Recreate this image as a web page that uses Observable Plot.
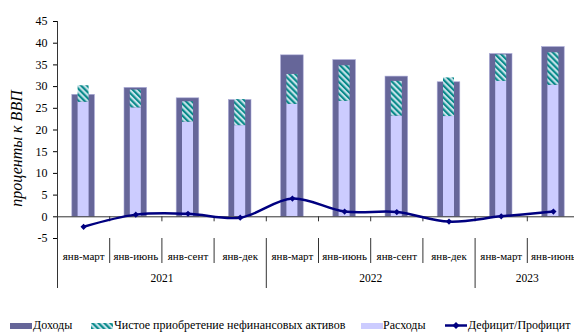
<!DOCTYPE html>
<html><head><meta charset="utf-8">
<script src="https://cdn.jsdelivr.net/npm/d3@7"></script>
<script src="https://cdn.jsdelivr.net/npm/@observablehq/plot@0.6"></script>
<style>
body{margin:0;background:#fff;font-family:"Liberation Serif","Times New Roman",serif;}
#wrap{position:relative;width:574px;height:332px;overflow:hidden;background:#fff;}
#chart svg{display:block}
.lg{position:absolute;font-size:12px;line-height:12px;color:#000;white-space:nowrap;top:318.5px}
.sw{position:absolute;top:322.5px;width:22px;height:6px}
</style></head><body>
<div id="wrap"><div id="chart"></div><div id="legend"></div></div>
<script>
// ---- data ----
const periods = ["янв-март","янв-июнь","янв-сент","янв-дек","янв-март","янв-июнь","янв-сент","янв-дек","янв-март","янв-июнь"];
const years = ["2021","2022","2023"];
const yearSpans = [4,4,2];
const revenues = [28.1,29.7,27.3,26.9,37.2,36.1,32.3,31.0,37.5,39.1];
const expenditures = [26.4,25.1,21.8,21.0,25.9,26.6,23.2,23.1,31.2,30.3];
const netAcquisition = [3.8,4.1,4.7,6.0,6.9,8.2,8.0,8.9,6.1,7.5];
const balance = [-2.3,0.5,0.7,-0.2,4.2,1.2,1.1,-1.1,0.1,1.2];
const yTicks = [-5,0,5,10,15,20,25,30,35,40,45];
const yTitle = "проценты к ВВП";
const legendLabels = ["Доходы","Чистое приобретение нефинансовых активов","Расходы","Дефицит/Профицит"];

// ---- derived table ----
const rows = periods.map((p,i)=>({i, period:p, rev:revenues[i], exp:expenditures[i], naa:netAcquisition[i], bal:balance[i]}));
const boundaries = d3.range(0, periods.length + 1);
let acc = 0;
const yearStarts = [], yearCenters = [];
yearSpans.forEach(s => { yearStarts.push(acc); yearCenters.push(acc + s/2); acc += s; });
const shortSeps = boundaries.filter(b => b > 0 && b < periods.length && !yearStarts.includes(b));

const C_REV = "#666699", C_EXP = "#ccccff", C_LINE = "#000080";
const outerInset = 14.8, innerInset = 20.6;

const chart = Plot.plot({
  width: 574, height: 305,
  marginLeft: 57, marginRight: 0, marginTop: 21, marginBottom: 67,
  style: {fontFamily: '"Liberation Serif","Times New Roman",serif', fontSize: "11px", color: "#000", background: "white"},
  x: {type: "linear", domain: [0, periods.length], range: [57, 579]},
  y: {domain: [-5, 45]},
  marks: [
    Plot.rectY(rows, {x1: d=>d.i, x2: d=>d.i+1, y1: 0, y2: "rev", fill: C_REV, stroke: "#a9a9d6", strokeWidth: 0.6, insetLeft: outerInset, insetRight: outerInset}),
    Plot.rectY(rows, {x1: d=>d.i, x2: d=>d.i+1, y1: 0, y2: "exp", fill: C_EXP, insetLeft: innerInset, insetRight: innerInset}),
    Plot.rectY(rows, {x1: d=>d.i, x2: d=>d.i+1, y1: "exp", y2: d=>d.exp+d.naa, fill: "url(#hatch)", insetLeft: innerInset, insetRight: innerInset}),
    Plot.ruleY([0], {stroke: "#333", strokeWidth: 1}),
    Plot.ruleX(boundaries.slice(1), {x: d=>d, y1: 0, y2: 0, insetBottom: -5, stroke: "#333"}),
    Plot.ruleX([0], {y1: -5, y2: 45, stroke: "#333"}),
    Plot.axisY(yTicks, {anchor: "left", tickSize: 4, tickPadding: 6, fontSize: 12, label: null, tickFormat: d=>String(d)}),
    Plot.axisX(rows.map(d=>d.i+0.5), {anchor: "bottom", tickSize: 0, tickPadding: 14, fontSize: 11, label: null, tickFormat: d=>periods[Math.round(d-0.5)]}),
    Plot.axisX(shortSeps, {anchor: "bottom", tickSize: 25, tickFormat: ()=>"", label: null, stroke: "#333"}),
    Plot.axisX(yearStarts, {anchor: "bottom", tickSize: 50, tickFormat: ()=>"", label: null, stroke: "#333"}),
    Plot.axisX(yearCenters, {anchor: "bottom", tickSize: 0, tickPadding: 35, fontSize: 11.5, label: null, tickFormat: d=>years[yearCenters.indexOf(d)]}),
    Plot.line(rows, {x: d=>d.i+0.5, y: "bal", curve: "catmull-rom", stroke: C_LINE, strokeWidth: 2.5}),
    Plot.dot(rows, {x: d=>d.i+0.5, y: "bal", symbol: "diamond2", r: 2.8, fill: C_LINE, stroke: "none"}),
    Plot.text([yTitle], {frameAnchor: "left", textAnchor: "middle", rotate: -90, dx: -41, dy: 18.5, fontStyle: "italic", fontSize: 16, text: d=>d})
  ]
});

// hatch pattern
const defs = d3.select(chart).insert("defs", ":first-child");
const pat = defs.append("pattern").attr("id", "hatch").attr("patternUnits", "userSpaceOnUse")
  .attr("width", 4.2).attr("height", 4.2).attr("patternTransform", "rotate(-45)");
pat.append("rect").attr("width", 4.2).attr("height", 4.2).attr("fill", "#c6e2ea");
pat.append("rect").attr("width", 2.1).attr("height", 4.2).attr("fill", "#088a8a");
document.getElementById("chart").appendChild(chart);

// legend
const lg = document.getElementById("legend");
function add(html){ lg.insertAdjacentHTML("beforeend", html); }
add(`<div class="sw" style="left:10px;background:${C_REV}"></div>`);
add(`<div class="lg" style="left:33px">${legendLabels[0]}</div>`);
add(`<svg class="sw" style="left:91px" width="22" height="6"><defs><pattern id="hatchL" patternUnits="userSpaceOnUse" width="4.2" height="4.2" patternTransform="rotate(-45)"><rect width="4.2" height="4.2" fill="#c6e2ea"/><rect width="2.1" height="4.2" fill="#088a8a"/></pattern></defs><rect width="22" height="6" fill="url(#hatchL)"/></svg>`);
add(`<div class="lg" style="left:114px">${legendLabels[1]}</div>`);
add(`<div class="sw" style="left:361px;background:${C_EXP}"></div>`);
add(`<div class="lg" style="left:383px">${legendLabels[2]}</div>`);
add(`<svg style="position:absolute;left:444px;top:320px" width="24" height="11"><line x1="1" x2="23" y1="5.5" y2="5.5" stroke="${C_LINE}" stroke-width="2.5"/><path d="M12,2 L15.5,5.5 L12,9 L8.5,5.5Z" fill="${C_LINE}"/></svg>`);
add(`<div class="lg" style="left:468px">${legendLabels[3]}</div>`);
</script>
</body></html>
